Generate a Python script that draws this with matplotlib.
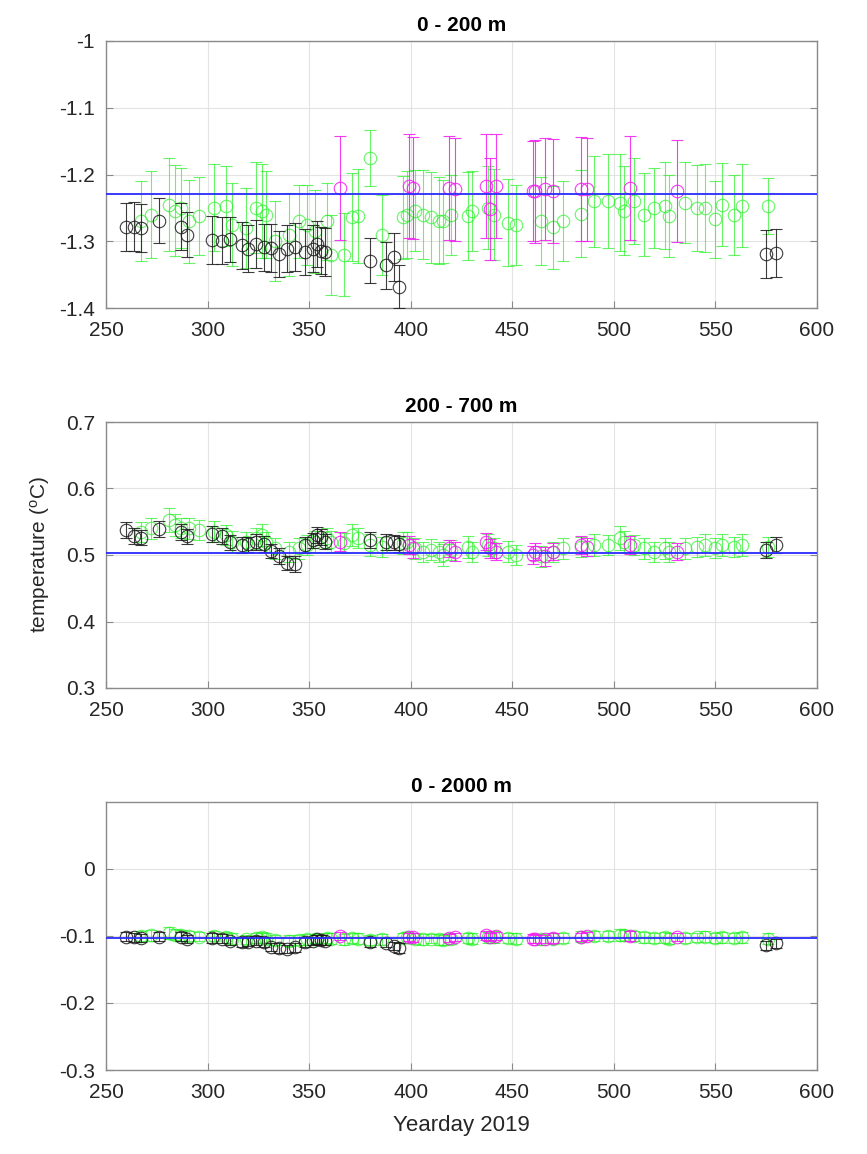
import matplotlib
matplotlib.use("Agg")
import matplotlib.pyplot as plt

plt.rcParams['font.family'] = ['Liberation Sans', 'DejaVu Sans']
plt.rcParams['mathtext.default'] = 'regular'

# ---------------- data ----------------
titles = ["0 - 200 m", "200 - 700 m", "0 - 2000 m"]
ylims = [(-1.4, -1.0), (0.3, 0.7), (-0.3, 0.1)]
yticks = [[-1.4, -1.3, -1.2, -1.1, -1.0], [0.3, 0.4, 0.5, 0.6, 0.7], [-0.3, -0.2, -0.1, 0.0]]
ytick_labels = [["-1.4", "-1.3", "-1.2", "-1.1", "-1"], ["0.3", "0.4", "0.5", "0.6", "0.7"],
                ["-0.3", "-0.2", "-0.1", "0"]]
xticks = [250, 300, 350, 400, 450, 500, 550, 600]
ref_lines = [-1.229, 0.503, -0.103]

black_days = [260, 264, 267, 276, 287, 290, 302, 307, 311, 317, 320, 324, 328, 331,
              335, 339, 343, 348, 352, 354, 356, 358, 380, 388, 392, 394, 575, 580]
black_p1 = [-1.279, -1.278, -1.280, -1.269, -1.278, -1.290, -1.298, -1.299, -1.297, -1.306,
            -1.311, -1.304, -1.309, -1.310, -1.319, -1.311, -1.309, -1.316, -1.311, -1.304,
            -1.314, -1.316, -1.329, -1.336, -1.324, -1.368, -1.319, -1.318]
black_e1 = [0.036, 0.037, 0.036, 0.034, 0.035, 0.034, 0.036, 0.035, 0.034, 0.035,
            0.035, 0.036, 0.035, 0.036, 0.034, 0.035, 0.036, 0.034, 0.035, 0.034,
            0.035, 0.036, 0.034, 0.035, 0.036, 0.032, 0.036, 0.036]
black_p2 = [0.537, 0.528, 0.526, 0.539, 0.535, 0.528, 0.532, 0.529, 0.519, 0.515,
            0.516, 0.520, 0.517, 0.506, 0.498, 0.488, 0.487, 0.515, 0.522, 0.530,
            0.527, 0.520, 0.523, 0.520, 0.519, 0.517, 0.507, 0.515]
black_e2 = [0.012, 0.012, 0.011, 0.012, 0.012, 0.011, 0.012, 0.012, 0.011, 0.012,
            0.011, 0.012, 0.012, 0.011, 0.012, 0.011, 0.012, 0.012, 0.011, 0.012,
            0.012, 0.011, 0.012, 0.012, 0.011, 0.012, 0.012, 0.012]
black_p3 = [-0.101, -0.102, -0.103, -0.101, -0.101, -0.104, -0.103, -0.104, -0.108, -0.109,
            -0.109, -0.107, -0.109, -0.116, -0.118, -0.120, -0.117, -0.109, -0.107, -0.105,
            -0.106, -0.108, -0.109, -0.110, -0.115, -0.118, -0.114, -0.111]
black_e3 = [0.007, 0.007, 0.006, 0.007, 0.007, 0.006, 0.007, 0.007, 0.006, 0.007,
            0.006, 0.007, 0.007, 0.006, 0.007, 0.006, 0.007, 0.007, 0.006, 0.007,
            0.007, 0.006, 0.007, 0.007, 0.006, 0.007, 0.007, 0.007]

green_days = [267, 272, 281, 284, 287, 291, 296, 303, 309, 312, 319, 324, 327, 329, 333,
              340, 345, 349, 353, 359, 361, 367, 371, 374, 380, 386, 396, 398, 402, 406,
              410, 414, 416, 420, 428, 430, 438, 441, 448, 452, 464, 470, 475, 484, 490,
              497, 503, 505, 510, 515, 520, 525, 527, 535, 541, 545, 550, 553, 559, 563, 576]
green_p1 = [-1.270, -1.260, -1.245, -1.254, -1.250, -1.270, -1.262, -1.250, -1.247, -1.275,
            -1.280, -1.250, -1.255, -1.260, -1.300, -1.290, -1.270, -1.275, -1.285, -1.270,
            -1.320, -1.320, -1.264, -1.262, -1.175, -1.290, -1.264, -1.260, -1.254, -1.260,
            -1.264, -1.269, -1.270, -1.260, -1.262, -1.255, -1.250, -1.260, -1.272, -1.275,
            -1.269, -1.279, -1.270, -1.259, -1.240, -1.240, -1.242, -1.254, -1.240, -1.260,
            -1.250, -1.247, -1.262, -1.242, -1.250, -1.250, -1.267, -1.245, -1.260, -1.247, -1.247]
green_e1 = [0.060, 0.065, 0.070, 0.068, 0.060, 0.062, 0.058, 0.065, 0.060, 0.062,
            0.060, 0.068, 0.070, 0.065, 0.060, 0.062, 0.055, 0.060, 0.062, 0.058,
            0.060, 0.062, 0.066, 0.070, 0.042, 0.060, 0.062, 0.065, 0.060, 0.066,
            0.068, 0.065, 0.062, 0.060, 0.066, 0.060, 0.062, 0.068, 0.065, 0.060,
            0.066, 0.062, 0.060, 0.065, 0.068, 0.070, 0.072, 0.066, 0.064, 0.062,
            0.060, 0.065, 0.062, 0.060, 0.064, 0.066, 0.058, 0.062, 0.060, 0.062, 0.042]
green_p2 = [0.535, 0.540, 0.552, 0.545, 0.540, 0.540, 0.538, 0.535, 0.530, 0.520,
            0.520, 0.525, 0.530, 0.520, 0.510, 0.505, 0.510, 0.515, 0.520, 0.525,
            0.520, 0.518, 0.530, 0.525, 0.515, 0.512, 0.518, 0.520, 0.510, 0.505,
            0.508, 0.505, 0.500, 0.508, 0.512, 0.505, 0.515, 0.510, 0.505, 0.500,
            0.498, 0.505, 0.510, 0.512, 0.515, 0.515, 0.525, 0.520, 0.515, 0.510,
            0.505, 0.510, 0.505, 0.510, 0.512, 0.515, 0.510, 0.515, 0.512, 0.515, 0.512]
green_e2 = [0.015, 0.016, 0.018, 0.016, 0.015, 0.016, 0.015, 0.016, 0.015, 0.016,
            0.015, 0.016, 0.017, 0.015, 0.016, 0.015, 0.016, 0.015, 0.016, 0.015,
            0.016, 0.015, 0.016, 0.015, 0.016, 0.015, 0.016, 0.015, 0.016, 0.015,
            0.016, 0.015, 0.016, 0.015, 0.016, 0.015, 0.016, 0.015, 0.016, 0.015,
            0.016, 0.015, 0.016, 0.015, 0.016, 0.015, 0.018, 0.016, 0.015, 0.016,
            0.015, 0.016, 0.015, 0.016, 0.015, 0.016, 0.015, 0.016, 0.015, 0.016, 0.015]
green_p3 = [-0.100, -0.099, -0.096, -0.098, -0.099, -0.100, -0.101, -0.100, -0.102, -0.104,
            -0.105, -0.103, -0.102, -0.104, -0.106, -0.107, -0.106, -0.105, -0.104, -0.103,
            -0.104, -0.105, -0.103, -0.104, -0.106, -0.105, -0.103, -0.102, -0.104, -0.105,
            -0.104, -0.105, -0.106, -0.104, -0.103, -0.104, -0.102, -0.101, -0.103, -0.104,
            -0.105, -0.104, -0.103, -0.101, -0.100, -0.100, -0.098, -0.099, -0.100, -0.102,
            -0.103, -0.102, -0.104, -0.103, -0.102, -0.101, -0.103, -0.102, -0.103, -0.102, -0.104]
green_e3 = [0.008, 0.008, 0.009, 0.008, 0.008, 0.008, 0.007, 0.008, 0.008, 0.008,
            0.007, 0.008, 0.008, 0.008, 0.007, 0.008, 0.008, 0.008, 0.007, 0.008,
            0.008, 0.008, 0.007, 0.008, 0.008, 0.008, 0.007, 0.008, 0.008, 0.008,
            0.007, 0.008, 0.008, 0.008, 0.007, 0.008, 0.008, 0.009, 0.007, 0.008,
            0.008, 0.008, 0.007, 0.008, 0.008, 0.008, 0.009, 0.008, 0.008, 0.008,
            0.007, 0.008, 0.008, 0.008, 0.007, 0.008, 0.008, 0.008, 0.007, 0.008, 0.008]

magenta_days = [365, 399, 401, 419, 422, 437, 439, 442, 460, 461, 466, 470, 484, 487, 508, 531]
magenta_p1 = [-1.220, -1.217, -1.220, -1.220, -1.222, -1.217, -1.252, -1.217, -1.225, -1.225,
              -1.222, -1.225, -1.222, -1.222, -1.220, -1.225]
magenta_e1 = [0.078, 0.078, 0.076, 0.078, 0.077, 0.078, 0.076, 0.078, 0.075, 0.077,
              0.076, 0.078, 0.078, 0.077, 0.078, 0.076]
magenta_p2 = [0.520, 0.515, 0.510, 0.510, 0.505, 0.520, 0.510, 0.505, 0.500, 0.505,
              0.498, 0.505, 0.515, 0.512, 0.515, 0.505]
magenta_e2 = [0.014, 0.013, 0.014, 0.013, 0.014, 0.013, 0.014, 0.013, 0.014, 0.013,
              0.014, 0.013, 0.014, 0.013, 0.014, 0.013]
magenta_p3 = [-0.100, -0.101, -0.102, -0.103, -0.102, -0.099, -0.101, -0.100, -0.104, -0.105,
              -0.104, -0.103, -0.101, -0.100, -0.100, -0.102]
magenta_e3 = [0.006, 0.006, 0.007, 0.006, 0.006, 0.007, 0.006, 0.006, 0.007, 0.006,
              0.006, 0.007, 0.006, 0.006, 0.007, 0.006]

panels = [
    (green_p1, green_e1, magenta_p1, magenta_e1, black_p1, black_e1),
    (green_p2, green_e2, magenta_p2, magenta_e2, black_p2, black_e2),
    (green_p3, green_e3, magenta_p3, magenta_e3, black_p3, black_e3),
]

# ---------------- figure ----------------
W, H = 867, 1154
fig = plt.figure(figsize=(W / 100, H / 100), dpi=100)

rects_px = [(106, 41, 817, 308), (106, 422, 817, 688), (106, 802, 817, 1070)]
axcol = '#8a8a8a'
txtcol = '#262626'
green = (0.15, 0.95, 0.15, 0.7)
magenta = (0.95, 0.1, 0.95, 0.85)
black = (0.1, 0.1, 0.1, 0.85)

for i, (rect, pdata) in enumerate(zip(rects_px, panels)):
    l, t, r, b = rect
    ax = fig.add_axes([l / W, 1 - b / H, (r - l) / W, (b - t) / H])
    gp, ge, mp, me, bp, be = pdata

    common = dict(fmt='o', mfc='none', ms=9, mew=0.8, elinewidth=0.8, capsize=4.5, capthick=0.8)
    ax.errorbar(green_days, gp, yerr=ge, mec=green, ecolor=green, zorder=2, **common)
    ax.errorbar(magenta_days, mp, yerr=me, mec=magenta, ecolor=magenta, zorder=3, **common)
    ax.errorbar(black_days, bp, yerr=be, mec=black, ecolor=black, zorder=4, **common)
    ax.axhline(ref_lines[i], color='#2a2aff', lw=1.3, zorder=5)

    ax.set_xlim(250, 600)
    ax.set_ylim(*ylims[i])
    ax.set_xticks(xticks)
    ax.set_xticklabels([str(x) for x in xticks])
    ax.set_yticks(yticks[i])
    ax.set_yticklabels(ytick_labels[i])
    ax.grid(True, color='#e3e3e3', lw=0.8, zorder=0)
    ax.set_axisbelow(True)
    for s in ax.spines.values():
        s.set_color(axcol)
        s.set_linewidth(1.0)
    ax.tick_params(direction='in', length=5, width=0.8, colors=axcol, labelcolor=txtcol,
                   labelsize=15, top=False, right=True)
    ax.tick_params(axis='x', pad=9)
    ax.tick_params(axis='y', pad=8)
    ax.set_title(titles[i], fontsize=15, fontweight='bold', color='black', pad=7)
    if i == 1:
        ax.set_ylabel('temperature ($^o$C)', fontsize=15, color=txtcol, labelpad=10)
    if i == 2:
        ax.set_xlabel('Yearday 2019', fontsize=16, color=txtcol, labelpad=10)

fig.savefig('out.png', dpi=100, facecolor='white')
